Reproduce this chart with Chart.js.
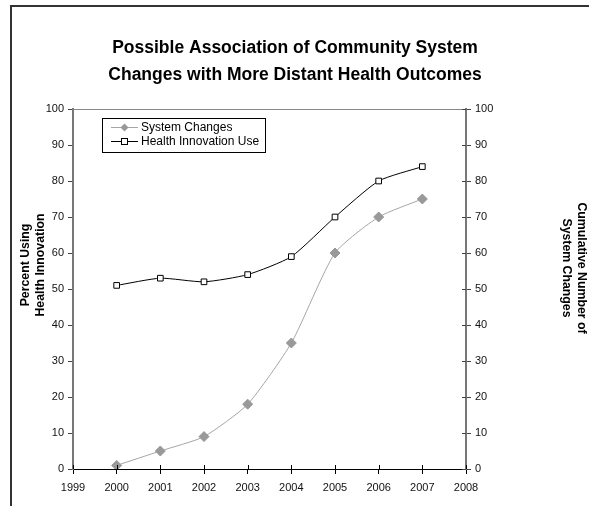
<!DOCTYPE html>
<html>
<head>
<meta charset="utf-8">
<script src="https://cdn.jsdelivr.net/npm/chart.js@4"></script>
<style>
  html, body { margin: 0; padding: 0; background: #fff; }
  #wrap { width: 589px; height: 506px; }
</style>
</head>
<body>
<div id="wrap"><canvas id="assocChart" width="589" height="506"></canvas></div>
<script>
const years = [2000, 2001, 2002, 2003, 2004, 2005, 2006, 2007];
const systemChanges = [1, 5, 9, 18, 35, 60, 70, 75];
const healthUse = [51, 53, 52, 54, 59, 70, 80, 84];
const xRange = [1999, 2008];
const yRange = [0, 100];

const titleLines = ['Possible Association of Community System', 'Changes with More Distant Health Outcomes'];
const leftTitle = ['Percent Using', 'Health Innovation'];
const rightTitle = ['Cumulative Number of', 'System Changes'];

const FONT = '"Liberation Sans", Arial, sans-serif';

function toPoints(vals) {
    return years.map((yr, i) => ({ x: yr, y: vals[i] }));
}

// frame, titles, plot border, legend, crossing ticks
const decorPlugin = {
    id: 'decor',
    beforeDraw(chart) {
        const ctx = chart.ctx;
        ctx.save();
        ctx.fillStyle = '#fff';
        ctx.fillRect(0, 0, chart.width, chart.height);
        ctx.strokeStyle = '#333';
        ctx.lineWidth = 2;
        ctx.beginPath();
        ctx.moveTo(11, chart.height);
        ctx.lineTo(11, 6);
        ctx.lineTo(chart.width, 6);
        ctx.stroke();
        ctx.restore();
    },
    afterDraw(chart) {
        const ctx = chart.ctx;
        const a = chart.chartArea;
        ctx.save();

        // top border of plot area
        ctx.strokeStyle = '#888';
        ctx.lineWidth = 1;
        ctx.beginPath();
        ctx.moveTo(a.left, Math.round(a.top) + 0.5);
        ctx.lineTo(a.right, Math.round(a.top) + 0.5);
        ctx.stroke();

        // inward half of crossing ticks on right and bottom axes
        const y2 = chart.scales.y2, x = chart.scales.x;
        ctx.strokeStyle = '#444';
        ctx.beginPath();
        y2.ticks.forEach(t => {
            const py = Math.round(y2.getPixelForValue(t.value)) + 0.5;
            ctx.moveTo(a.right - 4, py);
            ctx.lineTo(a.right, py);
        });
        ctx.stroke();
        ctx.strokeStyle = '#000';
        ctx.beginPath();
        x.ticks.forEach(t => {
            const px = Math.round(x.getPixelForValue(t.value)) + 0.5;
            ctx.moveTo(px, a.bottom - 4);
            ctx.lineTo(px, a.bottom);
        });
        ctx.stroke();

        // title
        ctx.fillStyle = '#000';
        ctx.textAlign = 'center';
        ctx.textBaseline = 'middle';
        ctx.font = 'bold 17.5px ' + FONT;
        ctx.fillText(titleLines[0], 295, 48);
        ctx.fillText(titleLines[1], 295, 75);

        // axis titles
        ctx.font = 'bold 12.3px ' + FONT;
        ctx.save();
        ctx.translate(26, 265);
        ctx.rotate(-Math.PI / 2);
        ctx.fillText(leftTitle[0], 0, 0);
        ctx.fillText(leftTitle[1], 0, 15);
        ctx.restore();
        ctx.save();
        ctx.translate(581, 268);
        ctx.rotate(Math.PI / 2);
        ctx.fillText(rightTitle[0], 0, 0);
        ctx.fillText(rightTitle[1], 0, 15);
        ctx.restore();

        // legend
        const lx = 102.5, ly = 118.5, lw = 163, lh = 34;
        ctx.strokeStyle = '#000';
        ctx.lineWidth = 1;
        ctx.strokeRect(lx, ly, lw, lh);
        ctx.textAlign = 'left';
        ctx.font = '12px ' + FONT;
        chart.data.datasets.forEach((ds, i) => {
            const cy = ly + 9 + i * 14;
            ctx.strokeStyle = ds.borderColor;
            ctx.lineWidth = 1;
            ctx.beginPath();
            ctx.moveTo(111, cy);
            ctx.lineTo(138, cy);
            ctx.stroke();
            ctx.fillStyle = ds.pointBackgroundColor;
            ctx.strokeStyle = ds.pointBorderColor;
            if (ds.pointStyle === 'rectRot') {
                ctx.beginPath();
                ctx.moveTo(124.5, cy - 4);
                ctx.lineTo(128.5, cy);
                ctx.lineTo(124.5, cy + 4);
                ctx.lineTo(120.5, cy);
                ctx.closePath();
                ctx.fill();
            } else {
                ctx.fillRect(121.5, cy - 3, 6, 6);
                ctx.strokeRect(121.5, cy - 3, 6, 6);
            }
            ctx.fillStyle = '#000';
            ctx.fillText(ds.label, 141, cy + 0.5);
        });
        ctx.restore();
    }
};

const tickFont = { family: FONT, size: 11 };

let assocChart = new Chart(document.getElementById('assocChart'), {
    type: 'line',
    data: {
        datasets: [{
            label: 'System Changes',
            data: toPoints(systemChanges),
            yAxisID: 'y2',
            borderColor: '#a6a6a6',
            borderWidth: 1,
            pointStyle: 'rectRot',
            pointRadius: 5,
            pointBackgroundColor: '#999999',
            pointBorderColor: '#999999',
            tension: 0.2
        }, {
            label: 'Health Innovation Use',
            data: toPoints(healthUse),
            yAxisID: 'y',
            borderColor: '#000000',
            borderWidth: 1,
            pointStyle: 'rect',
            pointRadius: 4,
            pointBackgroundColor: '#ffffff',
            pointBorderColor: '#000000',
            pointBorderWidth: 1,
            tension: 0.2
        }]
    },
    options: {
        responsive: false,
        animation: false,
        devicePixelRatio: 1,
        layout: { padding: { top: 109, left: 0, right: 0, bottom: 0 } },
        plugins: {
            legend: { display: false },
            title: { display: false },
            tooltip: { enabled: false }
        },
        scales: {
            x: {
                type: 'linear',
                min: xRange[0],
                max: xRange[1],
                ticks: { stepSize: 1, color: '#111', font: tickFont, padding: 7, maxRotation: 0,
                         callback: v => String(v) },
                grid: { drawOnChartArea: false, tickLength: 5, color: '#000' },
                border: { color: '#000', width: 1 },
                afterFit: s => { s.height = 37; }
            },
            y: {
                position: 'left',
                min: yRange[0],
                max: yRange[1],
                ticks: { stepSize: 10, color: '#111', font: tickFont, padding: 4 },
                grid: { drawOnChartArea: false, tickLength: 5, color: '#444' },
                border: { color: '#777', width: 2 },
                afterFit: s => { s.width = 73; }
            },
            y2: {
                position: 'right',
                min: yRange[0],
                max: yRange[1],
                ticks: { stepSize: 10, color: '#111', font: tickFont, padding: 4 },
                grid: { drawOnChartArea: false, tickLength: 5, color: '#444' },
                border: { color: '#777', width: 2 },
                afterFit: s => { s.width = 123; }
            }
        }
    },
    plugins: [decorPlugin]
});
</script>
</body>
</html>
